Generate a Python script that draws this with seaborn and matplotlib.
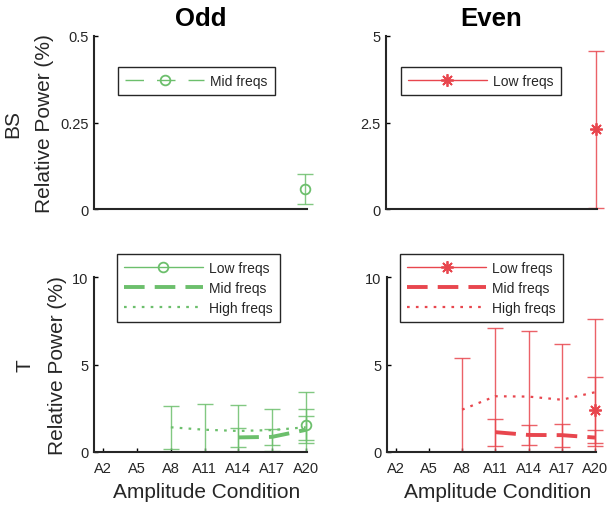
import numpy as np
import pandas as pd
import matplotlib
matplotlib.use("Agg")
import matplotlib.pyplot as plt
import seaborn as sns

# ---- data -------------------------------------------------------------
conditions = ["A2", "A5", "A8", "A11", "A14", "A17", "A20"]
nan = np.nan

# Odd / BS
odd_bs_mid_mean = [nan, nan, nan, nan, nan, nan, 0.058]
odd_bs_mid_err = [nan, nan, nan, nan, nan, nan, 0.043]

# Even / BS
even_bs_low_mean = [nan, nan, nan, nan, nan, nan, 2.31]
even_bs_low_err = [nan, nan, nan, nan, nan, nan, 2.27]

# Odd / T
odd_t_low_mean = [nan, nan, nan, nan, nan, nan, 1.55]
odd_t_low_err = [nan, nan, nan, nan, nan, nan, 0.90]
odd_t_mid_mean = [nan, nan, nan, nan, 0.82, 0.85, 1.25]
odd_t_mid_err = [nan, nan, nan, nan, 0.54, 0.45, 0.77]
odd_t_high_mean = [nan, nan, 1.40, 1.26, 1.19, 1.24, 1.40]
odd_t_high_err = [nan, nan, 1.24, 1.47, 1.49, 1.21, 2.00]

# Even / T
even_t_low_mean = [nan, nan, nan, nan, nan, nan, 2.41]
even_t_low_err = [nan, nan, nan, nan, nan, nan, 1.89]
even_t_mid_mean = [nan, nan, nan, 1.12, 0.96, 0.95, 0.81]
even_t_mid_err = [nan, nan, nan, 0.77, 0.56, 0.66, 0.46]
even_t_high_mean = [nan, nan, 2.41, 3.18, 3.16, 2.98, 3.41]
even_t_high_err = [nan, nan, 2.94, 3.93, 3.74, 3.18, 4.18]

GREEN = "#6cbf6c"
RED = "#e8464e"
TEXT_GREY = "#262626"

LOW_STYLE = dict(linestyle="-", lw=1.0)
MID_THIN_STYLE = dict(linestyle=(0, (13.3, 9.4)), lw=1.0)
MID_STYLE = dict(linestyle=(0, (5.3, 2.6)), lw=2.8)
HIGH_STYLE = dict(linestyle=(0, (1.2, 2.8)), lw=1.6)

X_LEFT, X_END = 0.73, 7.04

sns.set_theme(style="ticks")
plt.rcParams["font.family"] = ["Liberation Sans", "DejaVu Sans"]
plt.rcParams["axes.linewidth"] = 1.5


def draw_series(axis, means, errs, color, style, label, marker=None, ms=7):
    frame = pd.DataFrame({"x": np.arange(1, len(conditions) + 1),
                          "mean": means, "err": errs}).dropna()
    axis.errorbar(frame["x"], frame["mean"], yerr=frame["err"], fmt="none",
                  ecolor=color, elinewidth=1.0, capsize=6, capthick=1.0,
                  alpha=0.85, zorder=2)
    sns.lineplot(data=frame, x="x", y="mean", ax=axis, color=color,
                 errorbar=None, marker=marker, markersize=ms,
                 markerfacecolor="none", markeredgecolor=color,
                 markeredgewidth=1.3, label=label, zorder=3, **style)


def style_axis(axis, ymax, yticks, yticklabels, bottom_row):
    sns.despine(ax=axis)
    # extra room on the right so the last error bar caps are not clipped,
    # while the drawn x axis stops at A20
    axis.set_xlim(X_LEFT, 7.4)
    axis.spines["bottom"].set_bounds(X_LEFT, X_END)
    axis.set_ylim(0, ymax)
    axis.set_yticks(yticks)
    axis.set_yticklabels(yticklabels)
    axis.tick_params(direction="in", length=3, width=1, colors="black",
                     labelcolor=TEXT_GREY, labelsize=10.5, pad=4)
    axis.tick_params(axis="x", pad=7)
    axis.set_xlabel("")
    axis.set_ylabel("")
    if bottom_row:
        axis.set_xticks(np.arange(1, len(conditions) + 1))
        axis.set_xticklabels(conditions)
        axis.set_xlabel("Amplitude Condition", fontsize=15, color=TEXT_GREY,
                        labelpad=5)
    else:
        axis.set_xticks([])


def place_legend(axis, anchor):
    handles, labels = axis.get_legend_handles_labels()
    axis.legend(handles, labels, loc="upper left", bbox_to_anchor=anchor,
                bbox_transform=figure.transFigure, borderaxespad=0,
                fontsize=10, handlelength=5.7, handletextpad=0.45,
                borderpad=0.5, labelspacing=0.42, fancybox=False,
                framealpha=1, edgecolor=TEXT_GREY)
    axis.get_legend().get_frame().set_linewidth(1.0)


# axes widths include the extra space to the right of A20
def axes_rect(left_px, bottom_px, a20_px, height_px):
    unit = (a20_px - left_px) / (7 - X_LEFT)
    width_px = unit * (7.4 - X_LEFT)
    return [left_px / 608, bottom_px / 506, width_px / 608, height_px / 506]


figure = plt.figure(figsize=(6.08, 5.06), dpi=100)
ax_tl = figure.add_axes(axes_rect(94, 296, 305.5, 173))
ax_tr = figure.add_axes(axes_rect(386.2, 296, 595.5, 173))
ax_bl = figure.add_axes(axes_rect(94.3, 53.3, 305.7, 174.4))
ax_br = figure.add_axes(axes_rect(386.7, 53.3, 595.0, 174.4))

draw_series(ax_tl, odd_bs_mid_mean, odd_bs_mid_err, GREEN, MID_THIN_STYLE,
            "Mid freqs", marker="o")
draw_series(ax_tr, even_bs_low_mean, even_bs_low_err, RED, LOW_STYLE,
            "Low freqs", marker=(8, 2, 0), ms=9)

draw_series(ax_bl, odd_t_low_mean, odd_t_low_err, GREEN, LOW_STYLE,
            "Low freqs", marker="o")
draw_series(ax_bl, odd_t_mid_mean, odd_t_mid_err, GREEN, MID_STYLE, "Mid freqs")
draw_series(ax_bl, odd_t_high_mean, odd_t_high_err, GREEN, HIGH_STYLE, "High freqs")

draw_series(ax_br, even_t_low_mean, even_t_low_err, RED, LOW_STYLE,
            "Low freqs", marker=(8, 2, 0), ms=9)
draw_series(ax_br, even_t_mid_mean, even_t_mid_err, RED, MID_STYLE, "Mid freqs")
draw_series(ax_br, even_t_high_mean, even_t_high_err, RED, HIGH_STYLE, "High freqs")

style_axis(ax_tl, 0.5, [0, 0.25, 0.5], ["0", "0.25", "0.5"], False)
style_axis(ax_tr, 5, [0, 2.5, 5], ["0", "2.5", "5"], False)
style_axis(ax_bl, 10, [0, 5, 10], ["0", "5", "10"], True)
style_axis(ax_br, 10, [0, 5, 10], ["0", "5", "10"], True)

# titles centred over the drawn part of each axis
for axis, title in [(ax_tl, "Odd"), (ax_tr, "Even")]:
    axis.text((X_END + X_LEFT) / 2, 1.033, title,
              transform=axis.get_xaxis_transform(), ha="center", va="bottom",
              fontsize=18.5, fontweight="bold", color="black")

ax_tl.set_ylabel("BS\nRelative Power (%)", fontsize=15, color=TEXT_GREY,
                 linespacing=1.9, labelpad=4)
ax_bl.set_ylabel("T\nRelative Power (%)", fontsize=15, color=TEXT_GREY,
                 linespacing=1.9, labelpad=4)

place_legend(ax_tl, (118 / 608, 1 - 68 / 506))
place_legend(ax_tr, (400.7 / 608, 1 - 68 / 506))
place_legend(ax_bl, (116.7 / 608, 1 - 255 / 506))
place_legend(ax_br, (400 / 608, 1 - 255 / 506))

figure.savefig("out.png", dpi=100)
plt.close(figure)
